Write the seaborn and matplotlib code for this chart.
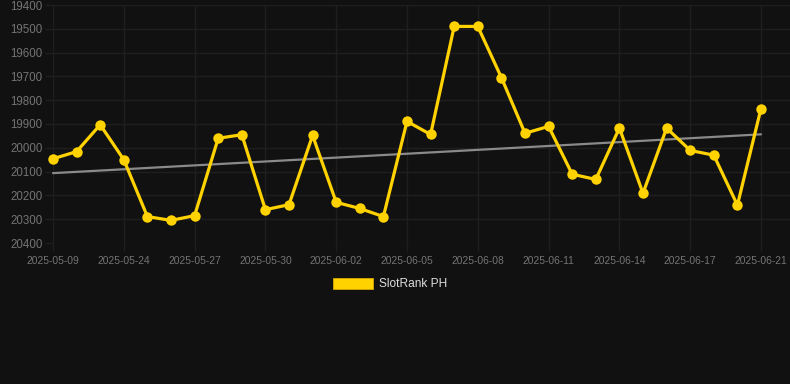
import numpy as np
import pandas as pd
import matplotlib
matplotlib.use("Agg")
import matplotlib.pyplot as plt
from matplotlib.patches import Patch
import seaborn as sns

dates = ["2025-05-09", "2025-05-22", "2025-05-23", "2025-05-24", "2025-05-25", "2025-05-26",
         "2025-05-27", "2025-05-28", "2025-05-29", "2025-05-30", "2025-05-31", "2025-06-01",
         "2025-06-02", "2025-06-03", "2025-06-04", "2025-06-05", "2025-06-06", "2025-06-07",
         "2025-06-08", "2025-06-09", "2025-06-10", "2025-06-11", "2025-06-12", "2025-06-13",
         "2025-06-14", "2025-06-15", "2025-06-16", "2025-06-17", "2025-06-18", "2025-06-20",
         "2025-06-21"]
rank = [20046, 20016, 19903, 20050, 20289, 20305, 20285, 19960, 19945, 20260, 20239,
        19948, 20229, 20255, 20289, 19889, 19944, 19490, 19490, 19705, 19939, 19910,
        20111, 20133, 19917, 20191, 19917, 20011, 20031, 20241, 19835]
series_name = "SlotRank PH"
y_ticks = list(range(19400, 20401, 100))

BG = "#111111"
GRID = "#1f1f1f"
GOLD = "#FFD200"
TXT = "#747474"

sns.set_theme(style="dark")
plt.rcParams["font.family"] = ["Liberation Sans", "DejaVu Sans"]

df = pd.DataFrame({"idx": np.arange(len(dates)), "date": dates, "rank": rank})

fig = plt.figure(figsize=(7.9, 3.84), dpi=100, facecolor=BG)
ax = fig.add_axes([53/790, 1 - 243/384, (790 - 53)/790, (243 - 5)/384])
ax.set_facecolor(BG)

# trend line (linear regression)
coef = np.polyfit(df["idx"], df["rank"], 1)
trend = np.polyval(coef, df["idx"])
sns.lineplot(x=df["idx"], y=trend, ax=ax, color="#8a8a8a", linewidth=1.6, zorder=2)

sns.lineplot(data=df, x="idx", y="rank", ax=ax, color=GOLD, linewidth=2.3,
             marker="o", markersize=7.5, markeredgewidth=0, zorder=3)
for ln in ax.lines:
    ln.set_clip_on(False)

ax.set_xlim(0, (790 - 53) / ((761 - 53) / 30))
ax.set_ylim(20400, 19400)
ax.set_yticks(y_ticks)
ax.set_yticklabels([str(v) for v in y_ticks])
xt = list(range(0, len(dates), 3))
ax.set_xticks(xt)
ax.set_xticklabels([dates[i] for i in xt])
ax.set_xlabel("")
ax.set_ylabel("")

ax.grid(True, color=GRID, linewidth=1)
for s in ax.spines.values():
    s.set_visible(False)
ax.tick_params(axis="y", colors=GRID, labelcolor=TXT, labelsize=8.3, length=6, width=1, pad=1.5, left=True)
ax.tick_params(axis="x", colors=GRID, labelcolor=TXT, labelsize=7.4, length=6, width=1, pad=3, bottom=True)

handle = Patch(facecolor=GOLD, edgecolor="#d9a800", linewidth=0.6)
leg = fig.legend([handle], [series_name], loc="center", bbox_to_anchor=(0.494, 0.26),
                 frameon=False, fontsize=8.6, handlelength=3.4, handleheight=1.05,
                 handletextpad=0.5, labelcolor="#dddddd")

fig.savefig("out.png", dpi=100, facecolor=BG)
